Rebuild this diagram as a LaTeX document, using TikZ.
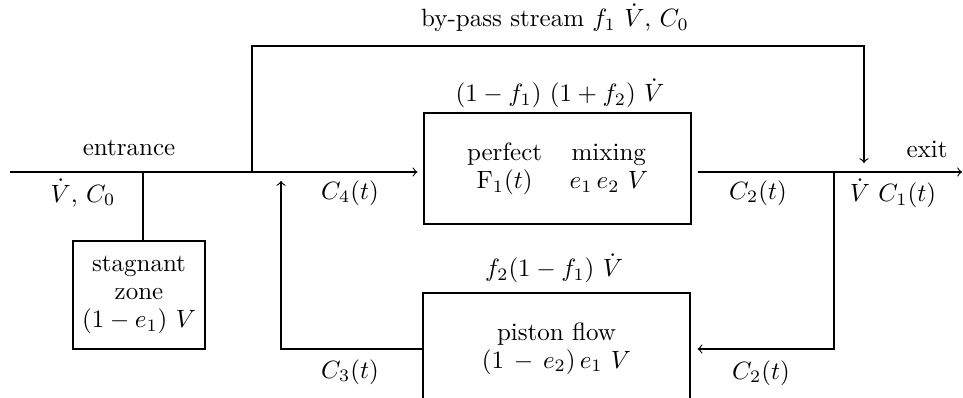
\documentclass[tikz,border=0pt]{standalone}
\begin{document}
\begin{tikzpicture}[x=0.4pt,y=-0.4pt,line width=0.45pt,>=to,
  blk/.style={draw,inner sep=0pt,align=center},
  lbl/.style={inner sep=0pt}]
\useasboundingbox (0,0) rectangle (963,398);
% boxes
\node[blk,minimum width=106.8pt,minimum height=44.4pt] (mix) at (557.5,168.5)
  {\begin{tabular}{@{}c@{\hspace{11pt}}c@{}}perfect & mixing\\[-0.8pt] $\mathrm{F}_1(t)$ & $e_1\,e_2\ V$\end{tabular}};
\node[blk,minimum width=106.8pt,minimum height=44.4pt] (pist) at (556.5,348.5)
  {piston flow\\[-0.8pt] $(1\,-\,e_2)\,e_1\ V$};
\node[blk,minimum width=52.8pt,minimum height=43.2pt] (stag) at (139,295)
  {stagnant\\[-0.8pt] zone\\[-0.8pt] $(1-e_1)\ V$};
% junction coordinates
\coordinate (in) at (10,172);
\coordinate (sp) at (252,172);
\coordinate (bt1) at (252,46);
\coordinate (bt2) at (864,46);
\coordinate (bypassend) at (864,163);
\coordinate (out) at (962,172);
\coordinate (br) at (834,172);
\coordinate (brc) at (834,349);
\coordinate (ret) at (281,349);
\coordinate (retend) at (281,181);
\coordinate (stj) at (143,172);
% connectors
\draw[->,shorten >=2.4pt] (in) -- (mix.west |- in);
\draw[->] (sp) -- (bt1) -- (bt2) -- (bypassend);
\draw[->,shorten <=2.4pt] (mix.east |- out) -- (out);
\draw[->,shorten >=2.8pt] (br) -- (brc) -- (pist.east |- brc);
\draw[->] (pist.west |- ret) -- (ret) -- (retend);
\draw (stj) -- (stj |- stag.north);
% labels
\node[lbl] (lent) at (129,148) {entrance};
\node[lbl] (lvc0) at (83,193) {$\dot V$, $C_0$};
\node[lbl] (lbyp) at (555,18) {by-pass stream $f_1\ \dot V$, $C_0$};
\node[lbl] (lmixf) at (560,93) {$(1-f_1)\ (1+f_2)\ \dot V$};
\node[lbl] (lc4) at (350,193) {$C_4(t)$};
\node[lbl] (lexit) at (927,149) {exit};
\node[lbl] (lc2a) at (758,193) {$C_2(t)$};
\node[lbl] (lc1) at (893,193) {$\dot V\ C_1(t)$};
\node[lbl] (lpf) at (554,268) {$f_2(1-f_1)\ \dot V$};
\node[lbl] (lc3) at (350,372) {$C_3(t)$};
\node[lbl] (lc2b) at (761,373) {$C_2(t)$};
\end{tikzpicture}
\end{document}
